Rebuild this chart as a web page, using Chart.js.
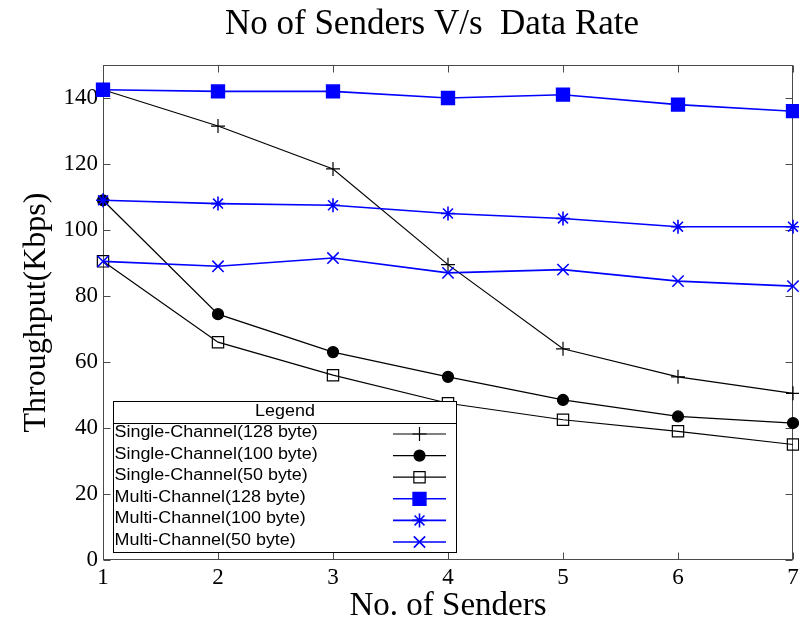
<!DOCTYPE html>
<html>
<head>
<meta charset="utf-8">
<title>No of Senders V/s Data Rate</title>
<script src="https://cdn.jsdelivr.net/npm/chart.js@4/dist/chart.umd.min.js"></script>
<style>
  html, body { margin: 0; padding: 0; background: #ffffff; }
  #wrap { width: 799px; height: 626px; }
</style>
</head>
<body>
<div id="wrap"><canvas id="chart" width="799" height="626"></canvas></div>
<script>
// ---- data ----
const chartTitle = 'No of Senders V/s  Data Rate';
const senders = [1, 2, 3, 4, 5, 6, 7];
const yTickValues = [0, 20, 40, 60, 80, 100, 120, 140];

const seriesNames = [
  'Single-Channel(128 byte)',
  'Single-Channel(100 byte)',
  'Single-Channel(50 byte)',
  'Multi-Channel(128 byte)',
  'Multi-Channel(100 byte)',
  'Multi-Channel(50 byte)'
];

const singleCh128 = [142.5, 131.5, 118.5, 89.5, 64.0, 55.5, 50.5];
const singleCh100 = [109.0, 74.5, 63.0, 55.5, 48.5, 43.5, 41.5];
const singleCh50  = [90.5, 66.0, 56.0, 47.5, 42.5, 39.0, 35.0];
const multiCh128  = [142.5, 142.0, 142.0, 140.0, 141.0, 138.0, 136.0];
const multiCh100  = [109.0, 108.0, 107.5, 105.0, 103.5, 101.0, 101.0];
const multiCh50   = [90.5, 89.0, 91.5, 87.0, 88.0, 84.5, 83.0];

// ---- styling ----
const SERIF = 'Liberation Serif';
const SANS = 'Liberation Sans';
const BLACK = '#000000';
const BLUE = '#0000ff';
const FRAME = '#4a4a4a';

const seriesValues = [singleCh128, singleCh100, singleCh50, multiCh128, multiCh100, multiCh50];
const seriesStyles = [
  { color: BLACK, width: 1.2, pointStyle: 'cross',    radius: 7,   fill: BLACK },
  { color: BLACK, width: 1.2, pointStyle: 'circle',   radius: 5.5, fill: BLACK },
  { color: BLACK, width: 1.2, pointStyle: 'rect',     radius: 8,   fill: 'rgba(0,0,0,0)' },
  { color: BLUE,  width: 1.6, pointStyle: 'rect',     radius: 9,   fill: BLUE },
  { color: BLUE,  width: 1.6, pointStyle: 'star',     radius: 7,   fill: BLUE },
  { color: BLUE,  width: 1.6, pointStyle: 'crossRot', radius: 8,   fill: BLUE }
];

const datasets = seriesNames.map((name, i) => {
  const st = seriesStyles[i];
  return {
    label: name,
    data: senders.map((s, j) => ({ x: s, y: seriesValues[i][j] })),
    borderColor: st.color,
    borderWidth: st.width,
    backgroundColor: st.fill,
    pointStyle: st.pointStyle,
    pointRadius: st.radius,
    pointHoverRadius: st.radius,
    pointBorderColor: st.color,
    pointBackgroundColor: st.fill,
    pointBorderWidth: st.width,
    tension: 0,
    fill: false,
    clip: false,
    order: seriesNames.length - i
  };
});

// frame around the plot with inward tick marks on all four sides
const framePlugin = {
  id: 'frame',
  beforeDatasetsDraw(chart) {
    const { ctx, chartArea: a, scales } = chart;
    const L = a.left + 0.5, R = a.right - 0.5, T = a.top + 0.5, B = a.bottom - 0.5;
    const len = 7;
    ctx.save();
    ctx.strokeStyle = FRAME;
    ctx.lineWidth = 1;
    ctx.strokeRect(L, T, R - L, B - T);
    ctx.beginPath();
    yTickValues.forEach(v => {
      const y = Math.round(scales.y.getPixelForValue(v)) + 0.5;
      ctx.moveTo(L, y); ctx.lineTo(L + len, y);
      ctx.moveTo(R, y); ctx.lineTo(R - len, y);
    });
    senders.forEach(v => {
      const x = Math.round(scales.x.getPixelForValue(v)) + 0.5;
      ctx.moveTo(x, B); ctx.lineTo(x, B - len);
      ctx.moveTo(x, T); ctx.lineTo(x, T + len);
    });
    ctx.stroke();
    ctx.restore();
  }
};

// boxed legend with a header row, labels on the left and line samples on the right
const legendBoxPlugin = {
  id: 'legendBox',
  afterDatasetsDraw(chart) {
    const { ctx } = chart;
    const box = { left: 113.5, top: 401.5, right: 456.5, bottom: 552.5, header: 423.5 };
    const rowY0 = 432.5, rowStep = 21.6;
    const stretch = 1.12;
    ctx.save();
    ctx.fillStyle = '#ffffff';
    ctx.fillRect(box.left, box.top, box.right - box.left, box.bottom - box.top);
    ctx.strokeStyle = BLACK;
    ctx.lineWidth = 1;
    ctx.strokeRect(box.left, box.top, box.right - box.left, box.bottom - box.top);
    ctx.beginPath();
    ctx.moveTo(box.left, box.header); ctx.lineTo(box.right, box.header);
    ctx.stroke();

    ctx.font = '16px "' + SANS + '"';
    ctx.textBaseline = 'middle';
    ctx.fillStyle = BLACK;
    ctx.save();
    ctx.translate((box.left + box.right) / 2, 411.5);
    ctx.scale(stretch, 1);
    ctx.textAlign = 'center';
    ctx.fillText('Legend', 0, 0);
    ctx.restore();

    chart.data.datasets.forEach((ds, i) => {
      const y = rowY0 + i * rowStep;
      ctx.save();
      ctx.translate(box.left + 1, y);
      ctx.scale(stretch, 1);
      ctx.textAlign = 'left';
      ctx.fillStyle = BLACK;
      ctx.fillText(ds.label, 0, 0);
      ctx.restore();

      const ly = y + 1.5;
      ctx.strokeStyle = ds.borderColor;
      ctx.lineWidth = ds.borderWidth;
      ctx.beginPath();
      ctx.moveTo(393, ly); ctx.lineTo(446, ly);
      ctx.stroke();
      ctx.fillStyle = ds.pointBackgroundColor;
      Chart.helpers.drawPoint(ctx, {
        pointStyle: ds.pointStyle,
        radius: ds.pointRadius,
        rotation: 0,
        borderWidth: ds.pointBorderWidth
      }, 419.5, ly);
    });
    ctx.restore();
  }
};

// centred heading above the plot
const headingPlugin = {
  id: 'heading',
  afterDraw(chart) {
    const { ctx } = chart;
    ctx.save();
    ctx.font = '35px "' + SERIF + '"';
    ctx.fillStyle = BLACK;
    ctx.textAlign = 'center';
    ctx.textBaseline = 'alphabetic';
    ctx.fillText(chartTitle, 432, 34);
    ctx.restore();
  }
};

Chart.defaults.font.family = SERIF;
Chart.defaults.color = BLACK;

new Chart(document.getElementById('chart'), {
  type: 'line',
  data: { datasets },
  plugins: [framePlugin, legendBoxPlugin, headingPlugin],
  options: {
    responsive: false,
    animation: false,
    devicePixelRatio: 1,
    layout: { autoPadding: false, padding: { top: 65, right: 6, left: 0, bottom: 0 } },
    plugins: {
      legend: { display: false },
      title: { display: false },
      tooltip: { enabled: false }
    },
    events: [],
    scales: {
      x: {
        type: 'linear',
        min: 1,
        max: 7,
        afterBuildTicks: s => { s.ticks = senders.map(v => ({ value: v })); },
        afterFit: s => { s.height = 66; s.paddingLeft = 0; s.paddingRight = 0; },
        grid: { display: false, drawTicks: false },
        border: { display: false },
        ticks: {
          color: BLACK,
          font: { family: SERIF, size: 23 },
          padding: 4,
          autoSkip: false,
          maxRotation: 0,
          callback: v => String(v)
        },
        title: {
          display: true,
          text: 'No. of Senders',
          color: BLACK,
          font: { family: SERIF, size: 33 },
          padding: { top: 0, bottom: 0 }
        }
      },
      y: {
        type: 'linear',
        min: 0,
        max: 150,
        afterBuildTicks: s => { s.ticks = yTickValues.map(v => ({ value: v })); },
        afterFit: s => { s.width = 103; s.paddingTop = 0; s.paddingBottom = 0; },
        grid: { display: false, drawTicks: false },
        border: { display: false },
        ticks: {
          color: BLACK,
          font: { family: SERIF, size: 23 },
          padding: 5,
          autoSkip: false,
          callback: v => String(v)
        },
        title: {
          display: true,
          text: 'Throughput(Kbps)',
          color: BLACK,
          font: { family: SERIF, size: 32 },
          padding: { top: 17, bottom: 0 }
        }
      }
    }
  }
});
</script>
</body>
</html>
